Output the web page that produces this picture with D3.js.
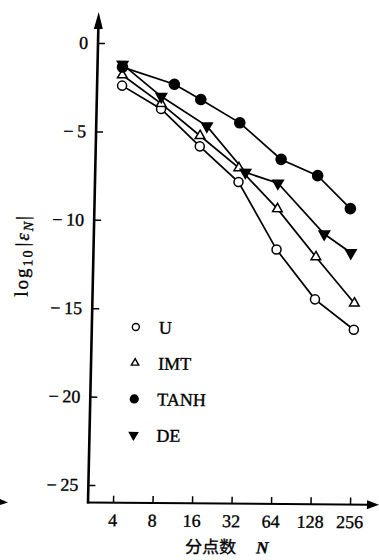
<!DOCTYPE html>
<html>
<head>
<meta charset="utf-8">
<script src="https://cdn.jsdelivr.net/npm/d3@7"></script>
<style>
  body { margin: 0; background: #fff; }
  svg { display: block; }
  text { stroke: #000; stroke-width: 0.35px; }
</style>
</head>
<body>
<div id="chart"></div>
<script>
// series (N = number of points, value = log10|eN|)
var nU = [4, 8, 16, 32, 64, 128, 256];
var valU = [-2.4, -3.7, -5.8, -7.8, -11.6, -14.4, -16.1];
var nIMT = [4, 8, 16, 32, 64, 128, 256];
var valIMT = [-1.8, -3.4, -5.2, -7.0, -9.3, -12.0, -14.6];
var nTANH = [4, 10, 16, 32, 67, 128, 230];
var valTANH = [-1.35, -2.3, -3.15, -4.45, -6.5, -7.4, -9.25];
var nDE = [4, 8, 18, 36, 64, 147, 236];
var valDE = [-1.2, -3.0, -4.65, -7.25, -7.85, -10.7, -11.75];

var xTicks = [4, 8, 16, 32, 64, 128, 256];
var yTicks = [0, -5, -10, -15, -20, -25];
var legendNames = ["U", "IMT", "TANH", "DE"];

var w = 379;
var h = 560;
var ox = 88, oy = 502.5; // axis corner

var serif = "'Liberation Serif', 'DejaVu Serif', serif";

var svg = d3.select("#chart")
  .append("svg")
  .attr("width", w)
  .attr("height", h);

// the scan is a little skewed, so the whole figure is too
var g = svg.append("g")
  .attr("transform", "translate(" + ox + "," + oy + ") matrix(1,0.008,-0.0218,1,0,0) translate(" + (-ox) + "," + (-oy) + ")");

var scaleX = d3.scaleLog().base(2)
  .domain([4, 256])
  .range([113, 350]);

var scaleY = d3.scaleLinear()
  .domain([0, -25])
  .range([43, 485]);

// axes
g.append("line")
  .attr("x1", ox).attr("y1", oy + 1)
  .attr("x2", ox).attr("y2", 22)
  .attr("stroke", "#000").attr("stroke-width", 2.6);
g.append("path")
  .attr("d", "M" + ox + ",12 L" + (ox - 4.5) + ",29 L" + (ox + 4.5) + ",29 Z")
  .attr("fill", "#000");

g.append("line")
  .attr("x1", ox - 1).attr("y1", oy)
  .attr("x2", 370).attr("y2", oy)
  .attr("stroke", "#000").attr("stroke-width", 2);
g.append("path")
  .attr("d", "M379," + oy + " L367," + (oy - 4.5) + " L367," + (oy + 4.5) + " Z")
  .attr("fill", "#000");

var xAxis = d3.axisTop(scaleX)
  .tickValues(xTicks)
  .tickSize(7)
  .tickFormat("");
g.append("g")
  .attr("transform", "translate(0," + oy + ")")
  .call(xAxis)
  .call(s => s.select(".domain").remove())
  .selectAll("line").attr("stroke-width", 1.5);

g.selectAll(".xlab")
  .data(xTicks)
  .enter()
  .append("text")
  .attr("class", "xlab")
  .attr("x", d => scaleX(d))
  .attr("y", 526)
  .attr("text-anchor", "middle")
  .attr("font-family", serif)
  .attr("font-size", 18)
  .text(d => d);

var yAxis = d3.axisRight(scaleY)
  .tickValues(yTicks)
  .tickSize(7)
  .tickFormat("");
g.append("g")
  .attr("transform", "translate(" + ox + ",0)")
  .call(yAxis)
  .call(s => s.select(".domain").remove())
  .selectAll("line").attr("stroke-width", 1.5);

g.selectAll(".ylab")
  .data(yTicks)
  .enter()
  .append("text")
  .attr("class", "ylab")
  .attr("x", 78)
  .attr("y", d => scaleY(d) + 6)
  .attr("text-anchor", "end")
  .attr("font-family", serif)
  .attr("font-size", 18)
  .text(d => d == 0 ? "0" : "\u2212\u2009" + Math.abs(d));

// axis titles
var yt = g.append("text")
  .attr("transform", "translate(23,256) rotate(-90)")
  .attr("text-anchor", "middle")
  .attr("font-family", serif)
  .attr("font-size", 19)
  .attr("letter-spacing", 2);
yt.append("tspan").text("log");
yt.append("tspan").attr("font-size", 14).attr("dy", 4).text("10");
yt.append("tspan").attr("dy", -4).attr("dx", 2).text("|");
yt.append("tspan").attr("font-style", "italic").text("\u03b5");
yt.append("tspan").attr("font-style", "italic").attr("font-size", 14).attr("dy", 4).text("N");
yt.append("tspan").attr("dy", -4).text("|");

var xt = g.append("text")
  .attr("x", 186)
  .attr("y", 552)
  .attr("font-size", 17);
xt.append("tspan")
  .attr("font-family", "'Noto Sans CJK SC', sans-serif")
  .text("分点数");
xt.append("tspan")
  .attr("font-family", serif)
  .attr("font-style", "italic")
  .attr("font-weight", "bold")
  .attr("dx", 20)
  .text("N");

// series
var series = [
  {n: nU, v: valU, shape: d3.symbolCircle, size: 64, fill: "#fff", rot: 0},
  {n: nIMT, v: valIMT, shape: d3.symbolTriangle, size: 40, fill: "#fff", rot: 0},
  {n: nTANH, v: valTANH, shape: d3.symbolCircle, size: 80, fill: "#000", rot: 0},
  {n: nDE, v: valDE, shape: d3.symbolTriangle, size: 48, fill: "#000", rot: 180}
];

var line = d3.line()
  .x(d => scaleX(d[0]))
  .y(d => scaleY(d[1]));

series.forEach(s => {
  var pts = s.n.map((d, i) => [d, s.v[i]]);
  g.append("path")
    .datum(pts)
    .attr("d", line)
    .attr("fill", "none")
    .attr("stroke", "#000")
    .attr("stroke-width", 1.7);
});

series.forEach(s => {
  var pts = s.n.map((d, i) => [d, s.v[i]]);
  g.selectAll(null)
    .data(pts)
    .enter()
    .append("path")
    .attr("d", d3.symbol().type(s.shape).size(s.size))
    .attr("transform", d => "translate(" + scaleX(d[0]) + "," + scaleY(d[1]) + ") rotate(" + s.rot + ")")
    .attr("fill", s.fill)
    .attr("stroke", "#000")
    .attr("stroke-width", 1.5);
});

// legend
legendNames.forEach((name, i) => {
  var s = series[i];
  var ly = 326.6 + i * 36;
  g.append("path")
    .attr("d", d3.symbol().type(s.shape).size(s.size * 0.6))
    .attr("transform", "translate(132," + ly + ") rotate(" + s.rot + ")")
    .attr("fill", s.fill)
    .attr("stroke", "#000")
    .attr("stroke-width", 1.4);
  g.append("text")
    .attr("x", 155)
    .attr("y", ly + 6.5)
    .attr("font-family", serif)
    .attr("font-size", 18)
    .text(name);
});

// stray arrow head from the scan at the left edge
svg.append("path")
  .attr("d", "M0,499 L8,502.5 L0,505 Z")
  .attr("fill", "#000");
</script>
</body>
</html>
